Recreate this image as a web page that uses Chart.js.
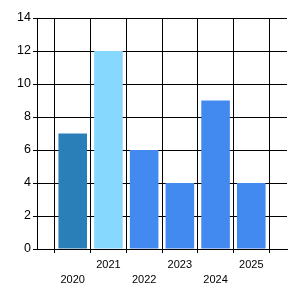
<!DOCTYPE html>
<html>
<head>
<meta charset="utf-8">
<script src="https://cdn.jsdelivr.net/npm/chart.js@4"></script>
<style>
  html, body { margin: 0; padding: 0; background: #fff; }
  #wrap { width: 300px; height: 300px; }
</style>
</head>
<body>
<div id="wrap"><canvas id="chart"></canvas></div>
<script>
var categories = ['2020', '2021', '2022', '2023', '2024', '2025'];
var values = [7, 12, 6, 4, 9, 4];
var barColors = ['#2a7fb8', '#87d8ff', '#428af0', '#428af0', '#428af0', '#428af0'];
var yTicks = [0, 2, 4, 6, 8, 10, 12, 14];

var points = [];
for (var i = 0; i < categories.length; i++) {
	points.push({ x: i + 1, y: values[i] });
}

var context = document.getElementById('chart').getContext('2d');
var chart = new Chart(context, {
	type: 'bar',
	data: {
		datasets: [{
			data: points,
			backgroundColor: barColors,
			borderWidth: 0,
			barPercentage: 1,
			categoryPercentage: 0.8
		}]
	},
	options: {
		responsive: true,
		maintainAspectRatio: false,
		animation: false,
		layout: { padding: { top: 18, right: 13, left: 0, bottom: 0 } },
		plugins: { legend: { display: false }, tooltip: { enabled: false } },
		scales: {
			x: {
				type: 'linear',
				min: 0,
				max: categories.length + 1,
				offset: false,
				grid: { color: '#000', lineWidth: 1, tickLength: 4, tickColor: '#000' },
				border: { color: '#000', width: 1 },
				ticks: {
					stepSize: 1,
					autoSkip: false,
					maxRotation: 0,
					padding: 4,
					color: '#000',
					font: { family: 'Liberation Sans', size: 11, lineHeight: '15px' },
					callback: function (value) {
						var label = categories[value - 1];
						if (!label) return '';
						return (value % 2 === 1) ? ['', label] : label;
					}
				},
				afterFit: function (scale) { scale.height = 51; }
			},
			y: {
				min: 0,
				max: yTicks[yTicks.length - 1],
				grid: { color: '#000', lineWidth: 1, tickLength: 4, tickColor: '#000' },
				border: { color: '#000', width: 1 },
				ticks: {
					stepSize: 2,
					padding: 2,
					color: '#000',
					font: { family: 'Liberation Sans', size: 12.5 }
				},
				afterFit: function (scale) { scale.width = 37; }
			}
		}
	}
});
</script>
</body>
</html>
